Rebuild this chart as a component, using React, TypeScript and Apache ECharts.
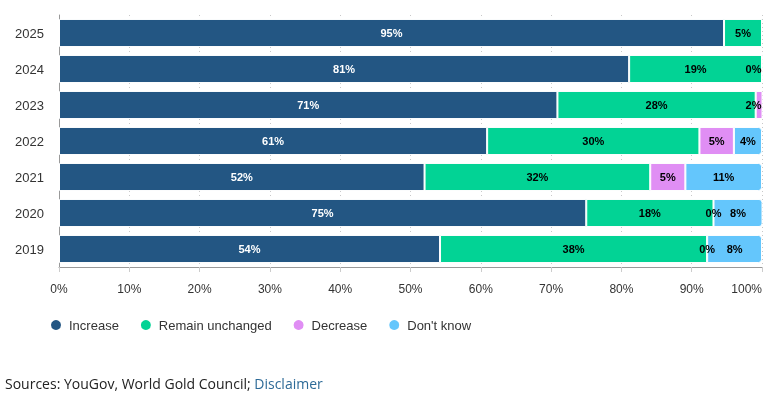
import React, { useEffect, useRef } from "react";
import * as echarts from "echarts";

const years = ["2019", "2020", "2021", "2022", "2023", "2024", "2025"];
const increase = [54.2, 75.0, 52.0, 60.9, 70.9, 81.1, 94.6];
const remainUnchanged = [38.0, 18.1, 32.1, 30.2, 28.2, 18.9, 5.4];
const decrease: (number | null)[] = [0, 0, 5.0, 4.9, 1.6, 0, null];
const dontKnow: (number | null)[] = [7.8, 7.7, 10.9, 4.0, null, null, null];
const seriesNames = ["Increase", "Remain unchanged", "Decrease", "Don't know"];
const colors = ["#235683", "#02d395", "#e08ef4", "#64c6fc"];

const FONT = "'Liberation Sans', Arial, sans-serif";

export default function App() {
  const ref = useRef<HTMLDivElement>(null);
  useEffect(() => {
    if (!ref.current) return;
    const chart = echarts.init(ref.current, undefined, { renderer: "svg" });
    const fmt = (p: any) => Math.round(p.value) + "%";
    const mkLabel = (color: string) => ({
      show: true,
      position: "inside",
      formatter: fmt,
      color,
      fontSize: 11,
      fontWeight: "bold",
      fontFamily: FONT,
    });
    const edgeIdx = [4, 5]; // labels pushed inside at the right edge
    const withEdge = (arr: (number | null)[]) =>
      arr.map((v, i) =>
        edgeIdx.includes(i) && v !== null
          ? { value: v, label: { position: "insideRight", distance: 1 } }
          : v
      );
    const dataSets = [increase, remainUnchanged, withEdge(decrease), dontKnow];
    const series = seriesNames.map((name, i) => ({
      name,
      type: "bar",
      stack: "total",
      barCategoryGap: "22%",
      clip: true,
      data: dataSets[i],
      itemStyle: {
        color: colors[i],
        borderColor: "#ffffff",
        borderWidth: 1,
        borderRadius: i === 3 ? [0, 3, 3, 0] : 0,
      },
      label: mkLabel(i === 0 ? "#ffffff" : "#000000"),
      emphasis: { disabled: true },
    }));
    chart.setOption({
      animation: false,
      grid: { left: 59, right: 16, top: 15, bottom: 131, containLabel: false },
      xAxis: {
        type: "value",
        min: 0,
        max: 100,
        interval: 10,
        axisLabel: {
          formatter: "{value}%",
          fontSize: 12,
          color: "#333333",
          fontFamily: FONT,
          margin: 16,
          alignMaxLabel: "right",
        },
        axisLine: { show: true, lineStyle: { color: "#999999" } },
        axisTick: { show: true, length: 5, lineStyle: { color: "#cccccc" } },
        splitLine: {
          show: true,
          lineStyle: { color: "#c8c8c8", type: [1, 3] },
        },
      },
      yAxis: {
        type: "category",
        data: years,
        axisLine: { show: true, lineStyle: { color: "#999999" } },
        axisTick: { show: false },
        axisLabel: { fontSize: 13, color: "#333333", fontFamily: FONT, margin: 15 },
      },
      legend: {
        left: 44,
        top: 313,
        icon: "circle",
        itemWidth: 12,
        itemHeight: 12,
        itemGap: 20,
        textStyle: { fontSize: 13, color: "#333333", fontFamily: FONT, padding: [0, 0, 0, 2] },
        data: seriesNames,
      },
      graphic: [
        {
          type: "text",
          left: 5,
          top: 376,
          style: {
            text: "{a|Sources: YouGov, World Gold Council; }{b|Disclaimer}",
            rich: {
              a: { fontSize: 14, fontFamily: "'Open Sans', sans-serif", fill: "#222222" },
              b: { fontSize: 14, fontFamily: "'Open Sans', sans-serif", fill: "#2d6a97" },
            },
          },
        },
      ],
      series,
    });
    return () => chart.dispose();
  }, []);
  return (
    <div
      ref={ref}
      style={{ position: "fixed", left: 0, top: 0, width: 778, height: 398 }}
    />
  );
}
